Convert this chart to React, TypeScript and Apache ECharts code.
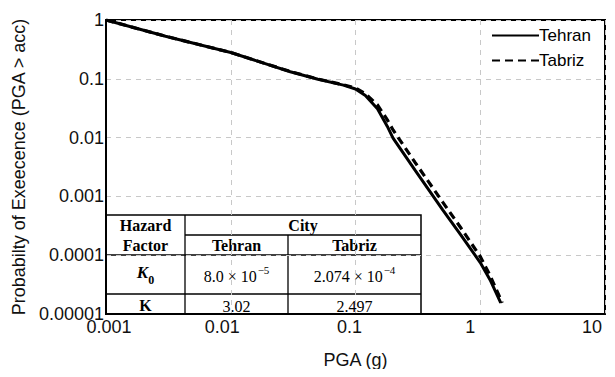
import React, { useEffect, useRef } from "react";
import * as echarts from "echarts";

const seriesNames = ["Tehran", "Tabriz"];

const tehranX = [0.001, 0.003, 0.01, 0.03, 0.05, 0.08, 0.1, 0.12, 0.15, 0.18, 0.2, 0.3, 0.5, 0.7, 1.0, 1.2, 1.46];
const tehranY = [1, 0.53, 0.28, 0.132, 0.098, 0.078, 0.067, 0.052, 0.031, 0.0155, 0.0098, 0.0028, 5.9e-4, 2.2e-4, 7.5e-5, 3.8e-5, 1.55e-5];

const tabrizX = [0.001, 0.003, 0.01, 0.03, 0.05, 0.08, 0.1, 0.12, 0.15, 0.18, 0.2, 0.3, 0.5, 0.7, 1.0, 1.2, 1.5];
const tabrizY = [1, 0.53, 0.28, 0.133, 0.099, 0.079, 0.07, 0.056, 0.036, 0.02, 0.0135, 0.0038, 8e-4, 2.9e-4, 9.5e-5, 4.5e-5, 1.55e-5];

const xTickLabels = ["0.001", "0.01", "0.1", "1", "10"];
const yTickLabels = ["0.00001", "0.0001", "0.001", "0.01", "0.1", "1"];

const tableHeader = ["Hazard", "Factor", "City"];
const tableCities = ["Tehran", "Tabriz"];
const k0Mantissa = ["8.0", "2.074"];
const k0Exponent = ["\u22125", "\u22124"];
const kValues = ["3.02", "2.497"];

const sans = "'Liberation Sans', Arial, sans-serif";
const serif = "'Liberation Serif', 'Times New Roman', serif";

export default function App() {
  const ref = useRef<HTMLDivElement>(null);

  useEffect(() => {
    if (!ref.current) return;
    const chart = echarts.init(ref.current, undefined, { renderer: "svg" });

    const tehranData = tehranX.map((x, i) => [x, tehranY[i]]);
    const tabrizData = tabrizX.map((x, i) => [x, tabrizY[i]]);

    // table geometry
    const x0 = 106, x1 = 185, x2 = 288, x3 = 421;
    const y0 = 215, y1 = 235, y2 = 255, y3 = 294, y4 = 314;
    const c0 = (x0 + x1) / 2, c1 = (x1 + x2) / 2, c2 = (x2 + x3) / 2;
    const lineStyle = { stroke: "#000", lineWidth: 1.3 };
    const hdr = { fontFamily: serif, fontWeight: "bold", fontSize: 16, fill: "#000", align: "center", verticalAlign: "middle" };

    const cellText = (x: number, y: number, text: string, extra: any = {}) => ({
      type: "text",
      x,
      y,
      style: { ...hdr, text, ...extra },
    });

    const valueRich = {
      m: { fontFamily: serif, fontSize: 16, fill: "#000", verticalAlign: "bottom", lineHeight: 20 },
      s: { fontFamily: serif, fontSize: 11, fill: "#000", verticalAlign: "top", lineHeight: 20, padding: [0, 0, 0, 1] },
    };

    const xLabelBase = { fontFamily: sans, fontSize: 18, color: "#111" };
    const xRich = {
      l0: { ...xLabelBase, padding: [0, 0, 0, 6] },
      l1: { ...xLabelBase, padding: [0, 17, 0, 0] },
      l2: { ...xLabelBase, padding: [0, 12, 0, 0] },
      l3: { ...xLabelBase, padding: [0, 20, 0, 0] },
      l4: { ...xLabelBase, padding: [0, 26, 0, 0] },
    };

    const option: any = {
      animation: false,
      backgroundColor: "#fff",
      grid: {
        left: 106,
        right: 10,
        top: 20,
        bottom: 63,
        show: true,
        borderColor: "#000",
        borderWidth: 2,
        backgroundColor: "transparent",
      },
      legend: {
        data: seriesNames,
        orient: "vertical",
        left: 486,
        top: 22,
        itemWidth: 47,
        itemHeight: 14,
        itemGap: 8,
        itemStyle: { color: "transparent", borderWidth: 0, opacity: 0 },
        textStyle: { fontFamily: sans, fontSize: 17, color: "#000", padding: [0, 0, 0, -5] },
      },
      xAxis: {
        type: "log",
        logBase: 10,
        min: 0.001,
        max: 10,
        name: "PGA (g)",
        nameLocation: "middle",
        nameGap: 37,
        nameTextStyle: { fontFamily: sans, fontSize: 18, color: "#111" },
        axisLine: { show: true, lineStyle: { color: "#000", width: 2 } },
        axisTick: { show: false },
        axisLabel: {
          fontFamily: sans,
          fontSize: 18,
          color: "#111",
          margin: 4,
          rich: xRich,
          formatter: (v: number) => {
            const i = Math.round(Math.log10(v)) + 3;
            const t = xTickLabels[i];
            return t === undefined ? "" : `{l${i}|${t}}`;
          },
        },
        splitLine: { show: true, lineStyle: { color: "#c8c8c8", type: [5, 5], width: 1 } },
        minorSplitLine: { show: false },
      },
      yAxis: {
        type: "log",
        logBase: 10,
        min: 0.00001,
        max: 1,
        name: "Probabilty of Exeecence (PGA > acc)",
        nameLocation: "middle",
        nameGap: 78,
        nameTextStyle: { fontFamily: sans, fontSize: 18, color: "#111" },
        axisLine: { show: true, lineStyle: { color: "#000", width: 2 } },
        axisTick: { show: false },
        axisLabel: {
          fontFamily: sans,
          fontSize: 18,
          color: "#111",
          margin: 2,
          formatter: (v: number) => yTickLabels[Math.round(Math.log10(v)) + 5] ?? "",
        },
        splitLine: { show: true, lineStyle: { color: "#c8c8c8", type: [5, 5], width: 1 } },
      },
      series: [
        {
          name: seriesNames[0],
          type: "line",
          data: tehranData,
          symbol: "none",
          showSymbol: false,
          lineStyle: { color: "#000", width: 3, type: "solid" },
          itemStyle: { color: "#000" },
          z: 3,
        },
        {
          name: seriesNames[1],
          type: "line",
          data: tabrizData,
          symbol: "none",
          showSymbol: false,
          lineStyle: { color: "#000", width: 3.2, type: [8, 5] },
          itemStyle: { color: "#000" },
          z: 4,
        },
      ],
      graphic: [
        {
          type: "group",
          z: 100,
          children: [
            {
              type: "rect",
              shape: { x: x0, y: y0, width: x3 - x0, height: y4 - y0 },
              style: { fill: "#fff", stroke: "#000", lineWidth: 1.5 },
            },
            { type: "line", shape: { x1: x1, y1: y0, x2: x1, y2: y4 }, style: lineStyle },
            { type: "line", shape: { x1: x2, y1: y1, x2: x2, y2: y4 }, style: lineStyle },
            { type: "line", shape: { x1: x1, y1: y1, x2: x3, y2: y1 }, style: lineStyle },
            { type: "line", shape: { x1: x0, y1: y2, x2: x3, y2: y2 }, style: lineStyle },
            { type: "line", shape: { x1: x0, y1: y3, x2: x3, y2: y3 }, style: lineStyle },
            cellText(c0, (y0 + y1) / 2, tableHeader[0]),
            cellText(c0, (y1 + y2) / 2, tableHeader[1]),
            cellText((x1 + x3) / 2, (y0 + y1) / 2, tableHeader[2]),
            cellText(c1, (y1 + y2) / 2, tableCities[0]),
            cellText(c2, (y1 + y2) / 2, tableCities[1]),
            cellText(c0, (y2 + y3) / 2, "{k|K}{z|0}", {
              rich: {
                k: { fontFamily: serif, fontSize: 17, fontWeight: "bold", fontStyle: "italic", fill: "#000", verticalAlign: "top", lineHeight: 22 },
                z: { fontFamily: serif, fontSize: 12, fontWeight: "bold", fill: "#000", verticalAlign: "bottom", lineHeight: 22 },
              },
            }),
            cellText(c1, (y2 + y3) / 2, `{m|${k0Mantissa[0]} \u00d7 10}{s|${k0Exponent[0]}}`, { rich: valueRich }),
            cellText(c2, (y2 + y3) / 2, `{m|${k0Mantissa[1]} \u00d7 10}{s|${k0Exponent[1]}}`, { rich: valueRich }),
            cellText(c0, (y3 + y4) / 2 + 1, "K"),
            cellText(c1, (y3 + y4) / 2 + 2, kValues[0], { fontWeight: "normal" }),
            cellText(c2, (y3 + y4) / 2 + 2, kValues[1], { fontWeight: "normal" }),
          ],
        },
      ],
    };

    chart.setOption(option);
    return () => chart.dispose();
  }, []);

  return <div ref={ref} style={{ width: 615, height: 377, margin: -8 }} />;
}
